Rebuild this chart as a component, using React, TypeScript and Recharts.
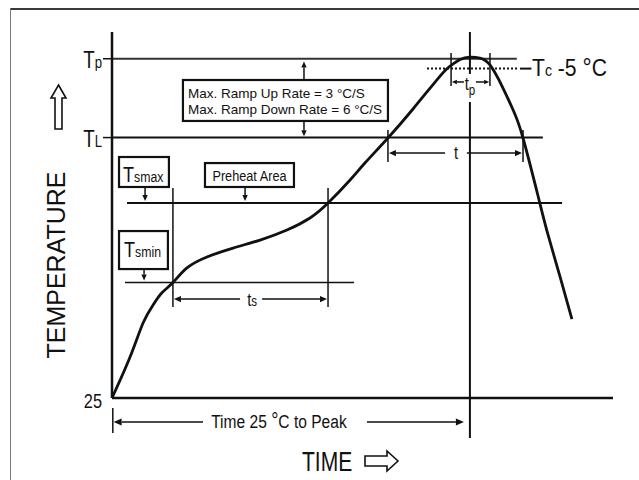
import React from "react";
import { LineChart, Line, XAxis, YAxis, ReferenceLine, ReferenceArea, ReferenceDot } from "recharts";

const FONT = '"Liberation Sans", Arial, Helvetica, sans-serif';
const INK = "#111";

// temperature levels (schematic units, profile starts at 25)
const T_START = 25;
const T_SMIN = 107;
const T_SMAX = 163.5;
const T_L = 210;
const T_C5 = 259;
const T_P = 266;

// key times along the profile (schematic seconds)
const TS_START = 30.4;
const TS_END = 107.8;
const TL_UP = 137.7;
const TL_DOWN = 205.1;
const T_PEAK = 178.6;
const TP_START = 169.2;
const TP_END = 188.6;

// the reflow curve
const profileTime = [0, 9, 15.5, 20.5, 24.8, 30.4, 37.4, 47.4, 60.4, 73.9, 87.3, 98.8, 107.8, 118.8, 126.2, 137.7, 150.2, 163.7, 168.7, 173.7, 178.6, 183.6, 188.6, 195.1, 200.6, 205.1, 212.6, 217.6, 223.6, 229.5];
const profileTemp = [25, 54.1, 78.3, 91.1, 99.6, 107, 117.4, 125.2, 131.5, 137.2, 144.3, 152.9, 163.5, 179.9, 191.9, 209.7, 230.3, 253.7, 260.8, 265.5, 267.2, 266.5, 261.6, 245.2, 228.2, 209.7, 168.5, 140.8, 111, 81.1];

const yTicks = [T_START, T_L, T_P];
const yTickLabels = [["25", ""], ["T", "L"], ["T", "p"]];

const rampLines = [["Max. Ramp Up Rate = 3 ", "C/S"], ["Max. Ramp Down Rate = 6 ", "C/S"]];

const profile = profileTime.map((t, i) => ({ time: t, temp: profileTemp[i] }));

function NText({ x, y, size, anchor = "start", sx = 0.82, children }: any) {
  return (
    <text transform={`translate(${x},${y}) scale(${sx},1)`} textAnchor={anchor} fontSize={size} fontFamily={FONT} fill={INK}>
      {children}
    </text>
  );
}

const arrowShape = (size = 7, width = 1.5) => (p: any) => {
  const { x1, y1, x2, y2 } = p;
  const a = Math.atan2(y2 - y1, x2 - x1);
  const w = size * 0.45;
  const bx = x2 - size * Math.cos(a);
  const by = y2 - size * Math.sin(a);
  const pts = `${x2},${y2} ${bx - w * Math.sin(a)},${by + w * Math.cos(a)} ${bx + w * Math.sin(a)},${by - w * Math.cos(a)}`;
  return (
    <g>
      <line x1={x1} y1={y1} x2={bx} y2={by} stroke={INK} strokeWidth={width} />
      <polygon points={pts} fill={INK} />
    </g>
  );
};

const renderTick = (p: any) => {
  const i = yTicks.indexOf(p.payload.value);
  const [main, sub] = yTickLabels[i];
  if (!sub) {
    return <NText x={p.x} y={p.y + 10} size={20} anchor="end">{main}</NText>;
  }
  return (
    <g>
      <line x1={p.x + 1} x2={p.x + 10} y1={p.y} y2={p.y} stroke={INK} strokeWidth={1.5} />
      <NText x={p.x} y={p.y + 9} size={23} anchor="end">
        {main}
        <tspan fontSize={16}>{sub}</tspan>
      </NText>
    </g>
  );
};

const tempLabel = (p: any) => {
  const vb = p.viewBox;
  return (
    <g>
      <text transform={`translate(${vb.x + 65},${vb.y + 233}) rotate(-90)`} textAnchor="middle" fontSize={25} fontFamily={FONT} fill={INK}>
        TEMPERATURE
      </text>
      <path transform={`translate(${vb.x},${vb.y})`} d="M58.5,53 L66,66 L62,66 L62,97 L55,97 L55,66 L51,66 Z" fill="#fff" stroke={INK} strokeWidth={1.6} />
    </g>
  );
};

const timeLabel = (p: any) => {
  const vb = p.viewBox;
  return (
    <g>
      <NText x={vb.x + 190} y={vb.y + 73} size={27} sx={0.78}>TIME</NText>
      <path transform={`translate(${vb.x},${vb.y})`} d="M253,58 L275,58 L275,53 L286,63 L275,73 L275,68 L253,68 Z" fill="#fff" stroke={INK} strokeWidth={1.6} />
    </g>
  );
};

const box = (render: (x: number, y: number, w: number, h: number) => any) => (p: any) => (
  <g>
    <rect x={p.x} y={p.y} width={p.width} height={p.height} fill="#fff" stroke={INK} strokeWidth={2.2} />
    {render(p.x, p.y, p.width, p.height)}
  </g>
);

const dotText = (render: (x: number, y: number) => any) => (p: any) => render(p.cx, p.cy);

const seg = (xa: number, ya: number, xb: number, yb: number) => [{ x: xa, y: ya }, { x: xb, y: yb }];

export default function App() {
  return (
    <div style={{ position: "fixed", left: 0, top: 0, width: 639, height: 480, background: "#fff" }}>
      <div style={{ position: "absolute", left: 10, top: 8, right: 0, height: 0, borderTop: "2px solid #3a3a3a" }} />
      <div style={{ position: "absolute", left: 10, top: 8, bottom: 0, width: 0, borderLeft: "1.5px solid #777" }} />
      <div style={{ position: "absolute", left: 0, top: 0 }}>
        <LineChart width={639} height={480} data={profile} margin={{ top: 32, right: 26, bottom: 0, left: 0 }}>
          <XAxis dataKey="time" type="number" domain={[0, 250]} tick={false} tickLine={false} axisLine={{ stroke: INK, strokeWidth: 2.5 }} height={82} label={timeLabel} />
          <YAxis type="number" domain={[25, 285]} ticks={yTicks} interval={0} width={112} tick={renderTick} tickLine={false} tickSize={9} tickMargin={1} axisLine={{ stroke: INK, strokeWidth: 2.5 }} label={tempLabel} />

          {/* level lines */}
          <ReferenceLine segment={seg(0, T_P, 202, T_P)} stroke="#333" strokeWidth={2} ifOverflow="visible" />
          <ReferenceLine segment={seg(157.2, T_C5, 203.1, T_C5)} stroke={INK} strokeWidth={2} strokeDasharray="2 2" ifOverflow="visible" />
          <ReferenceLine segment={seg(203.6, T_C5, 209.3, T_C5)} stroke={INK} strokeWidth={2} ifOverflow="visible" />
          <ReferenceLine segment={seg(0, T_L, 215, T_L)} stroke={INK} strokeWidth={2} ifOverflow="visible" />
          <ReferenceLine segment={seg(7.5, T_SMAX, 224.6, T_SMAX)} stroke={INK} strokeWidth={2} ifOverflow="visible" />
          <ReferenceLine segment={seg(6.5, T_SMIN, 120.8, T_SMIN)} stroke={INK} strokeWidth={1.6} ifOverflow="visible" />

          {/* vertical markers */}
          <ReferenceLine segment={seg(T_PEAK, 285, T_PEAK, 255.2)} stroke={INK} strokeWidth={2} ifOverflow="visible" />
          <ReferenceLine segment={seg(T_PEAK, 235.3, T_PEAK, -3.4)} stroke={INK} strokeWidth={2} ifOverflow="visible" />
          <ReferenceLine segment={seg(TS_START, 174.2, TS_START, 89.6)} stroke={INK} strokeWidth={1.5} ifOverflow="visible" />
          <ReferenceLine segment={seg(TS_END, 174.2, TS_END, 89.6)} stroke={INK} strokeWidth={1.5} ifOverflow="visible" />
          <ReferenceLine segment={seg(TL_UP, 215.4, TL_UP, 192.7)} stroke={INK} strokeWidth={1.5} ifOverflow="visible" />
          <ReferenceLine segment={seg(TL_DOWN, 215.4, TL_DOWN, 192.7)} stroke={INK} strokeWidth={1.5} ifOverflow="visible" />
          <ReferenceLine segment={seg(TP_START, 270.1, TP_START, 246.6)} stroke={INK} strokeWidth={1.5} ifOverflow="visible" />
          <ReferenceLine segment={seg(TP_END, 270.1, TP_END, 246.6)} stroke={INK} strokeWidth={1.5} ifOverflow="visible" />
          <ReferenceLine segment={seg(0.4, 17.9, 0.4, 0.1)} stroke={INK} strokeWidth={1.5} ifOverflow="visible" />

          {/* dimension arrows */}
          <ReferenceLine segment={seg(63.9, 95.3, TS_START + 0.5, 95.3)} shape={arrowShape()} ifOverflow="visible" />
          <ReferenceLine segment={seg(74.9, 95.3, TS_END - 0.5, 95.3)} shape={arrowShape()} ifOverflow="visible" />
          <ReferenceLine segment={seg(166.2, 199, TL_UP + 0.5, 199)} shape={arrowShape()} ifOverflow="visible" />
          <ReferenceLine segment={seg(177.1, 199, TL_DOWN - 0.5, 199)} shape={arrowShape()} ifOverflow="visible" />
          <ReferenceLine segment={seg(175.6, 249.5, TP_START + 0.4, 249.5)} shape={arrowShape(5)} ifOverflow="visible" />
          <ReferenceLine segment={seg(181.6, 249.5, TP_END - 0.4, 249.5)} shape={arrowShape(5)} ifOverflow="visible" />
          <ReferenceLine segment={seg(45.4, 7.95, 0.8, 7.95)} shape={arrowShape(8)} ifOverflow="visible" />
          <ReferenceLine segment={seg(127.2, 7.95, 175.6, 7.95)} shape={arrowShape(8)} ifOverflow="visible" />
          <ReferenceLine segment={seg(95.8, 250.9, 95.8, 264)} shape={arrowShape(6)} ifOverflow="visible" />
          <ReferenceLine segment={seg(95.8, 221.8, 95.8, 211)} shape={arrowShape(6)} ifOverflow="visible" />
          <ReferenceLine segment={seg(16.5, 174.9, 16.5, 165)} shape={arrowShape(6)} ifOverflow="visible" />
          <ReferenceLine segment={seg(66.4, 174.9, 66.4, 165)} shape={arrowShape(6)} ifOverflow="visible" />
          <ReferenceLine segment={seg(16, 116.6, 16, 108.5)} shape={arrowShape(6)} ifOverflow="visible" />

          {/* annotation boxes */}
          <ReferenceArea x1={35.4} x2={137.7} y1={221.8} y2={250.9} ifOverflow="visible"
            shape={box((x, y) => (
              <g>
                {rampLines.map((l, i) => (
                  <NText key={i} x={x + 5} y={y + 18 + i * 16} size={13.5} sx={1}>
                    {l[0]}°{l[1]}
                  </NText>
                ))}
              </g>
            ))} />
          <ReferenceArea x1={3.5} x2={28.4} y1={174.9} y2={196.2} ifOverflow="visible"
            shape={box((x, y) => (
              <NText x={x + 4} y={y + 25} size={22}>
                T<tspan fontSize={15}>smax</tspan>
              </NText>
            ))} />
          <ReferenceArea x1={46.4} x2={90.8} y1={174.9} y2={191.9} ifOverflow="visible"
            shape={box((x, y, w) => (
              <NText x={x + w / 2} y={y + 18} size={15.5} anchor="middle">Preheat Area</NText>
            ))} />
          <ReferenceArea x1={3.5} x2={27.9} y1={116.6} y2={143.6} ifOverflow="visible"
            shape={box((x, y) => (
              <NText x={x + 5} y={y + 26} size={22}>
                T<tspan fontSize={15}>smin</tspan>
              </NText>
            ))} />

          {/* free labels */}
          <ReferenceDot x={69.9} y={90.4} r={0} ifOverflow="visible"
            shape={dotText((x, y) => <NText x={x} y={y} size={18} anchor="middle">t<tspan fontSize={14}>s</tspan></NText>)} />
          <ReferenceDot x={171.7} y={194.8} r={0} ifOverflow="visible"
            shape={dotText((x, y) => <NText x={x} y={y} size={18} anchor="middle">t</NText>)} />
          <ReferenceDot x={T_PEAK} y={243.8} r={0} ifOverflow="visible"
            shape={dotText((x, y) => <NText x={x} y={y} size={18} anchor="middle">t<tspan fontSize={14} dy={5}>p</tspan></NText>)} />
          <ReferenceDot x={209.6} y={253.7} r={0} ifOverflow="visible"
            shape={dotText((x, y) => (
              <NText x={x} y={y} size={24} sx={0.88}>
                T<tspan fontSize={16}>c</tspan> -5 <tspan fontSize={26}>°</tspan>C
              </NText>
            ))} />
          <ReferenceDot x={83.3} y={3.7} r={0} ifOverflow="visible"
            shape={dotText((x, y) => (
              <NText x={x} y={y} size={19} anchor="middle">
                Time 25 <tspan fontSize={22}>°</tspan>C to Peak
              </NText>
            ))} />

          <Line dataKey="temp" type="natural" stroke={INK} strokeWidth={2.8} dot={false} isAnimationActive={false} />
        </LineChart>
      </div>
    </div>
  );
}
